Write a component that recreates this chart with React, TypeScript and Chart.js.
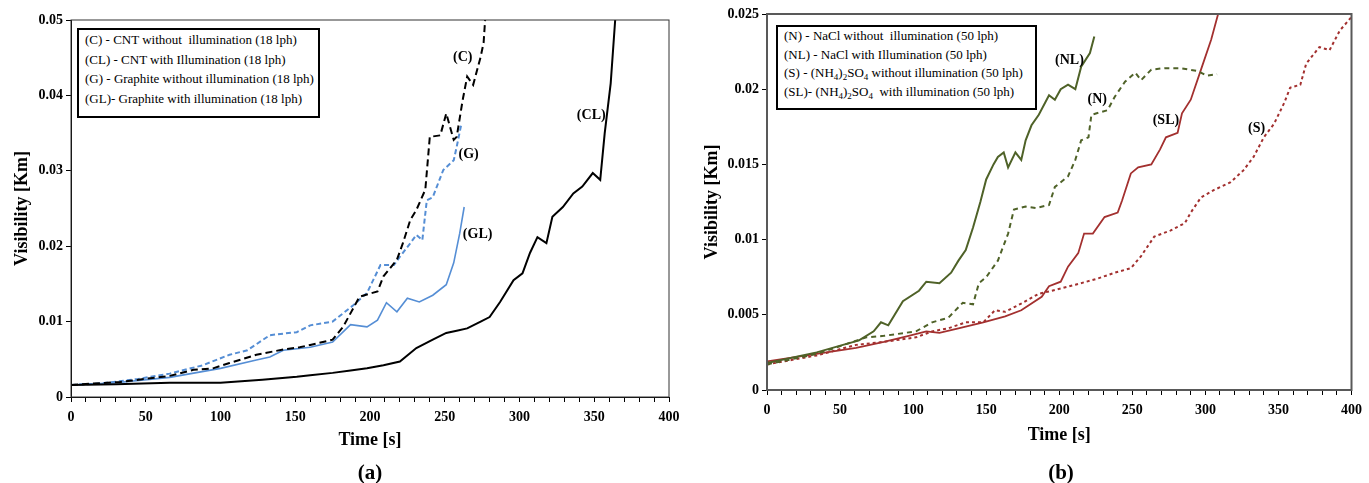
import React, { useEffect, useRef } from 'react';
import { Chart, registerables } from 'chart.js';

Chart.register(...registerables);
Chart.defaults.font.family = '"Liberation Serif", "Times New Roman", serif';

// ---------- Panel (a) data ----------
const tC = [0, 33, 66, 82, 95, 106, 124, 142, 153, 160, 175, 182, 193, 205, 209, 218, 222, 227, 231, 237, 240, 247, 251, 256, 258, 262, 265, 269, 274, 276, 277, 279];
const vC = [0.0016, 0.0020, 0.0028, 0.0036, 0.0038, 0.0045, 0.0056, 0.0063, 0.0066, 0.0069, 0.0076, 0.0093, 0.0133, 0.0140, 0.0160, 0.0182, 0.0204, 0.0235, 0.0248, 0.0275, 0.0345, 0.0347, 0.0376, 0.0341, 0.0345, 0.0394, 0.0425, 0.0414, 0.0451, 0.0470, 0.0500, 0.0530];

const tCL = [0, 30, 66, 100, 128, 151, 160, 175, 187, 198, 209, 220, 231, 242, 251, 258, 265, 274, 280, 287, 296, 302, 307, 312, 318, 322, 329, 336, 342, 349, 354, 357, 361, 364, 366];
const vCL = [0.0016, 0.0017, 0.0019, 0.0019, 0.0023, 0.0027, 0.0029, 0.0032, 0.0035, 0.0038, 0.0042, 0.0047, 0.0065, 0.0076, 0.0085, 0.0088, 0.0091, 0.0100, 0.0106, 0.0126, 0.0155, 0.0164, 0.0191, 0.0212, 0.0204, 0.0239, 0.0252, 0.0270, 0.0279, 0.0297, 0.0288, 0.0350, 0.0416, 0.0500, 0.0530];

const tG = [0, 20, 45, 66, 88, 106, 118, 133, 151, 160, 175, 189, 198, 207, 216, 220, 227, 231, 235, 238, 242, 249, 256, 258, 261];
const vG = [0.0016, 0.0018, 0.0024, 0.0031, 0.0042, 0.0056, 0.0062, 0.0082, 0.0086, 0.0095, 0.0100, 0.0122, 0.0138, 0.0175, 0.0175, 0.0186, 0.0204, 0.0215, 0.0208, 0.0261, 0.0265, 0.0301, 0.0314, 0.0332, 0.0361];

const tGL = [0, 30, 66, 100, 124, 133, 142, 160, 175, 187, 198, 205, 211, 218, 225, 233, 242, 251, 256, 260, 263];
const vGL = [0.0016, 0.0019, 0.0026, 0.0038, 0.0049, 0.0053, 0.0062, 0.0066, 0.0073, 0.0096, 0.0093, 0.0102, 0.0125, 0.0113, 0.0131, 0.0126, 0.0135, 0.0149, 0.0178, 0.0217, 0.0252];

const labelsA = [
  { text: '(C)', x: 262, y: 0.0451 },
  { text: '(CL)', x: 348, y: 0.0374 },
  { text: '(G)', x: 266, y: 0.0322 },
  { text: '(GL)', x: 272, y: 0.0215 },
];

// ---------- Panel (b) data ----------
const tN = [0, 34, 68, 80, 102, 113, 124, 134, 141, 145, 150, 158, 165, 169, 177, 184, 193, 197, 206, 211, 215, 220, 222, 233, 238, 245, 252, 256, 263, 272, 283, 295, 301, 308];
const vN = [0.0017, 0.0024, 0.0035, 0.0036, 0.0039, 0.0045, 0.0048, 0.0058, 0.0057, 0.0071, 0.0075, 0.0086, 0.0104, 0.0120, 0.0122, 0.0121, 0.0123, 0.0135, 0.0142, 0.0153, 0.0166, 0.0168, 0.0183, 0.0186, 0.0195, 0.0205, 0.0211, 0.0206, 0.0213, 0.0214, 0.0214, 0.0212, 0.0209, 0.0210];

const tNL = [0, 34, 52, 63, 73, 78, 83, 93, 104, 109, 118, 126, 131, 136, 141, 146, 150, 155, 158, 162, 165, 170, 174, 177, 181, 186, 193, 197, 201, 206, 211, 215, 221, 224];
const vNL = [0.0018, 0.0025, 0.0030, 0.0033, 0.0039, 0.0045, 0.0043, 0.0059, 0.0066, 0.0072, 0.0071, 0.0078, 0.0086, 0.0093, 0.0108, 0.0125, 0.0140, 0.0150, 0.0155, 0.0158, 0.0148, 0.0158, 0.0153, 0.0166, 0.0176, 0.0183, 0.0196, 0.0193, 0.0200, 0.0203, 0.0200, 0.0215, 0.0224, 0.0235];

const tS = [0, 34, 61, 80, 102, 113, 124, 136, 148, 156, 163, 175, 186, 195, 211, 226, 238, 249, 256, 265, 276, 286, 290, 297, 306, 317, 326, 333, 340, 347, 354, 358, 365, 369, 378, 385, 392, 400];
const vS = [0.0017, 0.0023, 0.0030, 0.0032, 0.0035, 0.0039, 0.0041, 0.0045, 0.0045, 0.0053, 0.0052, 0.0058, 0.0064, 0.0066, 0.0070, 0.0074, 0.0078, 0.0081, 0.0089, 0.0102, 0.0106, 0.0111, 0.0118, 0.0128, 0.0133, 0.0138, 0.0146, 0.0155, 0.0168, 0.0177, 0.0191, 0.0201, 0.0203, 0.0217, 0.0228, 0.0226, 0.0239, 0.0248];

const tSL = [0, 34, 61, 80, 97, 109, 118, 131, 148, 163, 174, 188, 193, 201, 206, 213, 217, 223, 231, 240, 243, 249, 254, 263, 269, 273, 281, 284, 290, 297, 304, 309, 311];
const vSL = [0.0019, 0.0024, 0.0028, 0.0032, 0.0036, 0.0039, 0.0038, 0.0041, 0.0045, 0.0049, 0.0053, 0.0062, 0.0069, 0.0072, 0.0082, 0.0091, 0.0104, 0.0104, 0.0115, 0.0118, 0.0126, 0.0144, 0.0148, 0.0150, 0.0160, 0.0168, 0.0171, 0.0184, 0.0193, 0.0213, 0.0233, 0.0251, 0.0260];

const labelsB = [
  { text: '(NL)', x: 207, y: 0.0219 },
  { text: '(N)', x: 226, y: 0.0193 },
  { text: '(SL)', x: 273, y: 0.0179 },
  { text: '(S)', x: 335, y: 0.0174 },
];

const BLUE = '#558ED5';
const GREEN = '#4F6228';
const RED = '#A3302F';

const FONT = '"Liberation Serif", "Times New Roman", serif';

function ds(label: string, t: number[], v: number[], color: string, dash: number[], width: number) {
  return {
    label,
    data: t.map((x, i) => ({ x, y: v[i] })),
    borderColor: color,
    backgroundColor: color,
    borderDash: dash,
    borderWidth: width,
    pointRadius: 0,
    tension: 0,
    fill: false,
  };
}

function framePlugin(color: string, width: number) {
  return {
    id: 'frame',
    afterDraw(chart: any) {
      const { ctx, chartArea: a } = chart;
      ctx.save();
      ctx.strokeStyle = color;
      ctx.lineWidth = width;
      ctx.strokeRect(a.left, a.top, a.right - a.left, a.bottom - a.top);
      ctx.restore();
    },
  };
}

function curveLabels(items: { text: string; x: number; y: number }[]) {
  return {
    id: 'curveLabels',
    afterDatasetsDraw(chart: any) {
      const { ctx, scales } = chart;
      ctx.save();
      ctx.font = `bold 14px ${FONT}`;
      ctx.fillStyle = '#000';
      ctx.textAlign = 'center';
      ctx.textBaseline = 'middle';
      items.forEach((it) => ctx.fillText(it.text, scales.x.getPixelForValue(it.x), scales.y.getPixelForValue(it.y)));
      ctx.restore();
    },
  };
}

function makeConfig(opts: {
  datasets: any[];
  yMax: number;
  yStep: number;
  yWidth: number;
  xHeight: number;
  padTop: number;
  padRight: number;
  titlePadBottom: number;
  labels: any[];
  frameColor: string;
  frameWidth: number;
}) {
  const tickFont = { family: FONT, size: 14, weight: 'bold' as const };
  const titleFont = { family: FONT, size: 18, weight: 'bold' as const };
  return {
    type: 'line' as const,
    data: { datasets: opts.datasets },
    options: {
      responsive: false,
      animation: false as const,
      layout: { padding: { top: opts.padTop, right: opts.padRight, left: 0, bottom: 0 } },
      plugins: { legend: { display: false }, tooltip: { enabled: false } },
      scales: {
        x: {
          type: 'linear' as const,
          min: 0,
          max: 400,
          ticks: {
            stepSize: 10,
            autoSkip: false,
            maxRotation: 0,
            color: '#000',
            font: tickFont,
            padding: 7,
            callback: (v: any) => (Number(v) % 50 === 0 ? String(v) : ''),
          },
          grid: { drawOnChartArea: false, drawTicks: true, tickLength: 5, color: '#000' },
          border: { color: '#000', width: 1 },
          title: { display: true, text: 'Time [s]', color: '#000', font: titleFont, padding: { top: 0, bottom: opts.titlePadBottom } },
          afterFit: (s: any) => { s.height = opts.xHeight; },
        },
        y: {
          type: 'linear' as const,
          min: 0,
          max: opts.yMax,
          ticks: {
            stepSize: opts.yStep,
            color: '#000',
            font: tickFont,
            padding: 3,
            callback: (v: any) => String(Number(Number(v).toFixed(4))),
          },
          grid: { drawOnChartArea: false, drawTicks: true, tickLength: 5, color: '#000' },
          border: { color: '#000', width: 1 },
          title: { display: true, text: 'Visibility [Km]', color: '#000', font: titleFont, padding: { top: 12, bottom: 0 } },
          afterFit: (s: any) => { s.width = opts.yWidth; },
        },
      },
    },
    plugins: [framePlugin(opts.frameColor, opts.frameWidth), curveLabels(opts.labels)],
  };
}

function ChartCanvas({ left, width, config }: { left: number; width: number; config: () => any }) {
  const ref = useRef<HTMLCanvasElement | null>(null);
  useEffect(() => {
    if (!ref.current) return;
    const chart = new Chart(ref.current, config());
    return () => chart.destroy();
  }, []);
  return (
    <canvas
      ref={ref}
      width={width}
      height={483}
      style={{ position: 'absolute', left, top: 0, width, height: 483 }}
    />
  );
}

const legendBox: React.CSSProperties = {
  position: 'absolute',
  boxSizing: 'border-box',
  border: '2px solid #000',
  background: '#fff',
  fontFamily: FONT,
  fontSize: 13,
  color: '#000',
  whiteSpace: 'pre',
  paddingLeft: 6,
};

const subStyle: React.CSSProperties = { fontSize: 9, verticalAlign: -3, lineHeight: 0 };

const caption: React.CSSProperties = {
  position: 'absolute',
  fontFamily: FONT,
  fontWeight: 'bold',
  fontSize: 21,
  lineHeight: '24px',
  width: 60,
  textAlign: 'center',
  color: '#000',
};

export default function App() {
  const configA = () =>
    makeConfig({
      datasets: [
        ds('(C) - CNT without illumination (18 lph)', tC, vC, '#000', [7, 4], 2),
        ds('(CL) - CNT with Illumination (18 lph)', tCL, vCL, '#000', [], 2),
        ds('(G) - Graphite without illumination (18 lph)', tG, vG, BLUE, [5, 3], 2),
        ds('(GL)- Graphite with illumination (18 lph)', tGL, vGL, BLUE, [], 1.6),
      ],
      yMax: 0.05,
      yStep: 0.01,
      yWidth: 71,
      xHeight: 86,
      padTop: 20,
      padRight: 21,
      titlePadBottom: 32,
      labels: labelsA,
      frameColor: '#333',
      frameWidth: 1,
    });
  const configB = () =>
    makeConfig({
      datasets: [
        ds('(N) - NaCl without illumination (50 lph)', tN, vN, GREEN, [5, 4], 2),
        ds('(NL) - NaCl with Illumination (50 lph)', tNL, vNL, GREEN, [], 2),
        ds('(S) - (NH4)2SO4 without illumination (50 lph)', tS, vS, RED, [3, 3], 2),
        ds('(SL)- (NH4)2SO4 with illumination (50 lph)', tSL, vSL, RED, [], 1.8),
      ],
      yMax: 0.025,
      yStep: 0.005,
      yWidth: 77,
      xHeight: 93,
      padTop: 14,
      padRight: 14,
      titlePadBottom: 37,
      labels: labelsB,
      frameColor: '#595959',
      frameWidth: 2,
    });

  return (
    <div style={{ position: 'absolute', left: 0, top: 0, width: 1369, height: 483, background: '#fff', overflow: 'hidden' }}>
      <ChartCanvas left={0} width={690} config={configA} />
      <ChartCanvas left={690} width={679} config={configB} />

      <div style={{ ...legendBox, left: 77, top: 28, width: 243, height: 90, lineHeight: '19.5px' }}>
        <div>{'(C) - CNT without  illumination (18 lph)'}</div>
        <div>{'(CL) - CNT with Illumination (18 lph)'}</div>
        <div>{'(G) - Graphite without illumination (18 lph)'}</div>
        <div>{'(GL)- Graphite with illumination (18 lph)'}</div>
      </div>

      <div style={{ ...legendBox, left: 776, top: 25, width: 261, height: 85, lineHeight: '18.5px', borderWidth: 2.5 }}>
        <div>{'(N) - NaCl without  illumination (50 lph)'}</div>
        <div>{'(NL) - NaCl with Illumination (50 lph)'}</div>
        <div>
          {'(S) - (NH'}<sub style={subStyle}>4</sub>{')'}<sub style={subStyle}>2</sub>{'SO'}<sub style={subStyle}>4</sub>{' without illumination (50 lph)'}
        </div>
        <div>
          {'(SL)- (NH'}<sub style={subStyle}>4</sub>{')'}<sub style={subStyle}>2</sub>{'SO'}<sub style={subStyle}>4</sub>{'  with illumination (50 lph)'}
        </div>
      </div>

      <div style={{ ...caption, left: 340, top: 460 }}>(a)</div>
      <div style={{ ...caption, left: 1031, top: 460 }}>(b)</div>
    </div>
  );
}
